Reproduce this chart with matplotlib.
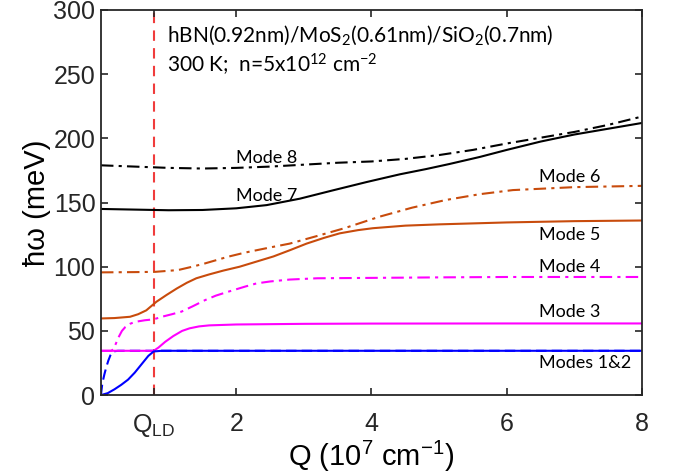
import matplotlib
matplotlib.use("Agg")
import matplotlib.pyplot as plt

plt.rcParams['font.family'] = ['Liberation Sans', 'DejaVu Sans']
plt.rcParams['mathtext.default'] = 'regular'

q_ld = 0.78

# mode dispersions (Q in 1e7 cm^-1, energy in meV)
q1 = [0, 0.1, 0.2, 0.3, 0.4, 0.5, 0.6, 0.7, 0.78, 0.9, 2, 4, 6, 8]
w1 = [0, 1.5, 4.5, 8, 12, 17.5, 24, 30.5, 34, 34.5, 34.5, 34.5, 34.5, 34.5]

q2 = [0, 0.02, 0.05, 0.08, 0.11, 0.14, 0.18, 0.25, 2, 4, 6, 8]
w2 = [0, 9, 16, 22, 27, 31, 34, 34.5, 34.5, 34.5, 34.5, 34.5]

q3 = [0, 0.78, 0.85, 0.95, 1.07, 1.2, 1.31, 1.45, 1.6, 2, 3, 4, 6, 8]
w3 = [34.5, 34.5, 37, 41.5, 46, 50, 52, 53.5, 54.3, 55, 55.5, 55.7, 55.8, 55.8]

q4 = [0, 0.15, 0.18, 0.22, 0.26, 0.31, 0.36, 0.43, 0.5, 0.65, 0.78, 0.9, 1.05,
      1.19, 1.35, 1.54, 1.7, 1.88, 2.13, 2.3, 2.5, 2.79, 3.2, 4, 5, 6, 8]
w4 = [34.5, 34.5, 35.5, 40, 45, 50, 53, 55.5, 57, 58.3, 59, 61, 63,
      65, 69, 74, 77.5, 80.5, 84.5, 87, 88.5, 90, 91, 91.3, 91.7, 92, 92]

q5 = [0, 0.2, 0.43, 0.55, 0.67, 0.82, 0.97, 1.12, 1.27, 1.41, 1.6, 1.81, 2.05,
      2.3, 2.55, 2.8, 3.04, 3.3, 3.53, 3.8, 4.02, 4.5, 5, 6, 7, 8]
w5 = [59.7, 60, 61, 63, 66, 72.7, 78, 83, 87.5, 91, 94, 97, 100,
      104, 108, 113, 118, 122.5, 126, 128.5, 130, 132, 133, 134.5, 135.5, 136]

q6 = [0, 0.5, 0.8, 1.14, 1.35, 1.54, 1.88, 2.13, 2.5, 2.79, 3.2, 3.6, 4.12,
      4.6, 5.1, 5.6, 6.09, 7, 8]
w6 = [95.6, 95.8, 96, 97.4, 100, 102.6, 107.8, 111, 115, 118, 124, 130, 139,
      146, 152, 156.5, 159.7, 162, 163]

q7 = [0, 0.5, 1, 1.5, 2, 2.45, 2.94, 3.43, 3.93, 4.42, 4.8, 5.15, 5.6, 6, 6.5,
      7, 7.5, 8]
w7 = [145, 144.5, 144, 144.2, 145.5, 148, 153, 159.5, 166, 172, 176, 180, 185.5,
      191, 197.5, 203, 207.5, 212]

q8 = [0, 0.5, 1, 1.5, 2, 2.5, 3, 3.5, 4, 4.5, 5, 5.5, 6, 6.5, 7, 7.5, 8]
w8 = [179, 178, 177, 176.5, 177, 178, 179.5, 181, 182, 184, 187, 191, 196,
      200.5, 205, 210.5, 217]

x_ticks = [q_ld, 2, 4, 6, 8]
x_ticklabels = ['Q$_{LD}$', '2', '4', '6', '8']

dashdot = (0, (6, 2.5, 1.5, 2.5))
orange = '#c84b0c'
lw = 1.5

fig = plt.figure(figsize=(6.73, 4.76), dpi=100)
ax = fig.add_axes([0.150, 0.170, 0.804, 0.809])

ax.axvline(q_ld, color='#f03c3c', lw=1.5, ls=(0, (5, 3.5)), zorder=1)

ax.plot(q2, w2, color='blue', lw=lw, ls=(0, (5, 2.5)))
ax.plot(q4, w4, color='magenta', lw=lw, ls=dashdot)
ax.plot(q3, w3, color='magenta', lw=lw)
ax.plot(q1, w1, color='blue', lw=lw)
ax.plot(q5, w5, color=orange, lw=lw)
ax.plot(q6, w6, color=orange, lw=lw, ls=dashdot)
ax.plot(q7, w7, color='black', lw=lw)
ax.plot(q8, w8, color='black', lw=lw, ls=dashdot)

ax.set_xlim(0, 8)
ax.set_ylim(0, 300)
ax.set_xticks(x_ticks)
ax.set_xticklabels(x_ticklabels)
ax.set_yticks(range(0, 301, 50))

ax.tick_params(direction='in', top=True, right=True, length=5, width=1.2,
               labelsize=18, colors='#262626')
ax.tick_params(axis='x', pad=12)
ax.tick_params(axis='y', pad=4)
for s in ax.spines.values():
    s.set_color('#262626')
    s.set_linewidth(1.3)

ax.set_xlabel('Q (10$^7$ cm$^{-1}$)', fontsize=21, color='black', labelpad=0)
ax.set_ylabel('ħω (meV)', fontsize=21, color='black', labelpad=2)

hf = dict(fontsize=15, family=['Lato', 'DejaVu Sans'], color='black', va='baseline')
ax.text(0.98, 275.4, 'hBN(0.92nm)/MoS$_2$(0.61nm)/SiO$_2$(0.7nm)', **hf)
ax.text(0.98, 251, '300 K;  n=5x10$^{12}$ cm$^{-2}$', **hf)

tf = dict(fontsize=13, family=['Lato', 'DejaVu Sans'], color='black', va='baseline')
ax.text(2.0, 181, 'Mode 8', **tf)
ax.text(2.0, 151.4, 'Mode 7', **tf)
ax.text(6.48, 165.7, 'Mode 6', **tf)
ax.text(6.48, 120.8, 'Mode 5', **tf)
ax.text(6.48, 96.1, 'Mode 4', **tf)
ax.text(6.48, 61, 'Mode 3', **tf)
ax.text(6.48, 20.8, 'Modes 1&2', **tf)

fig.savefig('out.png', dpi=100)
